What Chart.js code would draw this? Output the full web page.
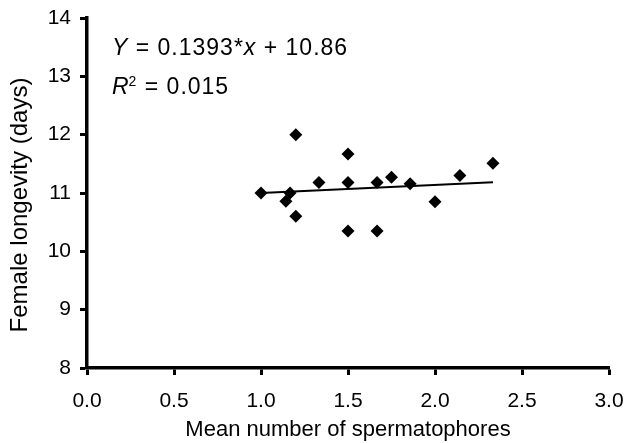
<!DOCTYPE html>
<html>
<head>
<meta charset="utf-8">
<script src="https://cdn.jsdelivr.net/npm/chart.js@4.4.0/dist/chart.umd.min.js"></script>
<style>
html,body{margin:0;padding:0;background:#fff;}
#wrap{width:627px;height:443px;position:relative;}
</style>
</head>
<body>
<div id="wrap"><canvas id="c" width="627" height="443"></canvas></div>
<script>
// Data
const spermatophores = [1.0, 1.143, 1.167, 1.2, 1.2, 1.333, 1.5, 1.5, 1.5, 1.667, 1.667, 1.75, 1.857, 2.0, 2.143, 2.333];
const longevity      = [11.0, 10.86, 11.0, 12.0, 10.6, 11.18, 11.67, 11.18, 10.35, 11.18, 10.35, 11.27, 11.16, 10.85, 11.3, 11.51];
// Regression shown on the chart
const slope = 0.1393;
const intercept = 10.86;
const r2 = 0.015;
const trendRange = [1.0, 2.333];
const xTicks = [0.0, 0.5, 1.0, 1.5, 2.0, 2.5, 3.0];
const yTicks = [8, 9, 10, 11, 12, 13, 14];
const xTitle = 'Mean number of spermatophores';
const yTitle = 'Female longevity (days)';

const FONT = '"Liberation Sans", Arial, sans-serif';

const points = spermatophores.map((x, i) => ({x: x, y: longevity[i]}));
const trend = trendRange.map(x => ({x: x, y: slope * x + intercept}));

const textPlugin = {
  id: 'texts',
  afterDraw(chart) {
    const ctx = chart.ctx;
    ctx.save();
    ctx.fillStyle = '#000';
    // y axis title
    ctx.save();
    ctx.font = '24px ' + FONT;
    ctx.textAlign = 'center';
    ctx.textBaseline = 'middle';
    ctx.translate(20, 205);
    ctx.rotate(-Math.PI / 2);
    ctx.fillText(yTitle, 0, 0);
    ctx.restore();
    // regression equation
    ctx.textBaseline = 'alphabetic';
    ctx.textAlign = 'left';
    try { ctx.letterSpacing = '1px'; } catch (e) {}
    const size = 23;
    const norm = size + 'px ' + FONT;
    const ital = 'italic ' + size + 'px ' + FONT;
    let x = 112, y = 55;
    const parts1 = [[ital, 'Y'], [norm, ' = ' + slope + '*'], [ital, 'x'], [norm, ' + ' + intercept.toFixed(2)]];
    for (const [f, t] of parts1) { ctx.font = f; ctx.fillText(t, x, y); x += ctx.measureText(t).width; }
    x = 112; y = 94;
    ctx.font = ital; ctx.fillText('R', x, y); x += ctx.measureText('R').width - 1;
    ctx.font = '14px ' + FONT; ctx.fillText('2', x, y - 8); x += ctx.measureText('2').width;
    ctx.font = norm; ctx.fillText(' = ' + r2.toFixed(3), x, y);
    ctx.restore();
  }
};

new Chart(document.getElementById('c'), {
  type: 'scatter',
  data: {
    datasets: [
      {
        type: 'line',
        data: trend,
        borderColor: '#000',
        borderWidth: 2,
        pointRadius: 0,
        fill: false,
        order: 2
      },
      {
        data: points,
        pointStyle: 'rectRot',
        pointRadius: 6.5,
        pointBackgroundColor: '#000',
        pointBorderColor: '#000',
        pointBorderWidth: 0,
        order: 1
      }
    ]
  },
  options: {
    responsive: false,
    animation: false,
    devicePixelRatio: 1,
    layout: {padding: {top: 18, right: 18, left: 0, bottom: 0}},
    plugins: {legend: {display: false}, tooltip: {enabled: false}},
    scales: {
      x: {
        type: 'linear',
        min: 0, max: 3,
        afterBuildTicks: s => { s.ticks = xTicks.map(v => ({value: v})); },
        afterFit: s => { s.height = 75; s.paddingLeft = 0; s.paddingRight = 0; },
        ticks: {
          callback: v => Number(v).toFixed(1),
          font: {family: FONT, size: 21},
          color: '#000',
          padding: 14
        },
        grid: {drawOnChartArea: false, drawTicks: true, tickLength: 7, tickWidth: 3, tickColor: '#000'},
        border: {display: true, color: '#000', width: 3.5},
        title: {
          display: true,
          text: xTitle,
          font: {family: FONT, size: 22},
          color: '#000',
          padding: {top: 0, bottom: 0}
        }
      },
      y: {
        type: 'linear',
        min: 8, max: 14,
        afterBuildTicks: s => { s.ticks = yTicks.map(v => ({value: v})); },
        afterFit: s => { s.width = 87; s.paddingTop = 0; s.paddingBottom = 0; },
        ticks: {
          font: {family: FONT, size: 21},
          color: '#000',
          padding: 9
        },
        grid: {drawOnChartArea: false, drawTicks: true, tickLength: 7, tickWidth: 3, tickColor: '#000'},
        border: {display: true, color: '#000', width: 3.5},
        title: {display: false}
      }
    }
  },
  plugins: [textPlugin]
});
</script>
</body>
</html>
